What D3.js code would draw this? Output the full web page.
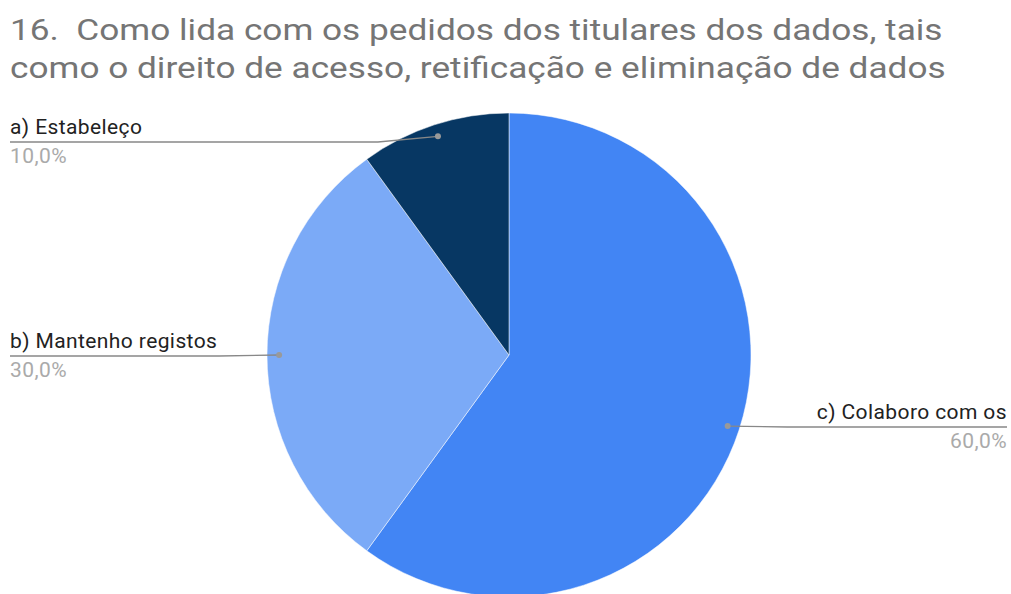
<!DOCTYPE html>
<html>
<head>
<meta charset="utf-8">
<script src="https://cdn.jsdelivr.net/npm/d3@7"></script>
<style>
  body { margin: 0; background: #fff; }
  svg { display: block; font-family: Roboto, Arial, sans-serif; }
</style>
</head>
<body>
<div id="chart"></div>
<script>
const titleLines = ['16.  Como lida com os pedidos dos titulares dos dados, tais',
                    'como o direito de acesso, retificação e eliminação de dados'];
const titleWidths = [933, 936];
const labels = ['c) Colaboro com os', 'b) Mantenho registos', 'a) Estabeleço'];
const values = [60, 30, 10];
const colors = ['#4285f4', '#7baaf7', '#073763'];

const w = 1011, h = 594;
const cx = 509, cy = 355, r = 242;

const svg = d3.select('#chart').append('svg').attr('width', w).attr('height', h);

// title: draw at natural width, then stretch sideways to the measured width
svg.selectAll('text.title').data(titleLines).enter().append('text')
    .attr('class', 'title')
    .attr('x', 0).attr('y', 0)
    .attr('fill', '#757575')
    .style('font-size', '30px').style('white-space', 'pre')
    .text(d => d)
    .each(function(d, i) {
      const len = this.getComputedTextLength();
      d3.select(this).attr('transform',
        'translate(10,' + (40 + i * 38) + ') scale(' + (titleWidths[i] / len) + ',1)');
    });

const data = labels.map((l, i) => ({label: l, value: values[i], color: colors[i]}));
const pie = d3.pie().value(d => d.value).sort(null);
const arc = d3.arc().innerRadius(0).outerRadius(r);
const arcs = pie(data);

const g = svg.append('g').attr('transform', 'translate(' + cx + ',' + cy + ')');
g.selectAll('path').data(arcs).enter().append('path')
    .attr('d', arc).attr('fill', d => d.data.color)
    .attr('stroke', '#fff').attr('stroke-width', 0.5);

// where each label line runs
const labelPos = [
  {side: 'right', lineY: 427},
  {side: 'left', lineY: 356},
  {side: 'left', lineY: 142}
];

arcs.forEach((a, i) => {
  const mid = (a.startAngle + a.endAngle) / 2;
  const px = cx + Math.sin(mid) * r * 0.95;
  const py = cy - Math.cos(mid) * r * 0.95;
  const lp = labelPos[i];
  const endX = lp.side === 'left' ? 10 : 1007;
  const bendX = lp.side === 'left' ? px - 60 : px + 60;
  svg.append('polyline')
      .attr('points', [[px, py], [bendX, lp.lineY], [endX, lp.lineY]].map(p => p.join(',')).join(' '))
      .attr('fill', 'none').attr('stroke', '#888').attr('stroke-width', 1.3);
  svg.append('circle').attr('cx', px).attr('cy', py).attr('r', 3).attr('fill', '#999');
  const anchor = lp.side === 'left' ? 'start' : 'end';
  svg.append('text').attr('x', endX).attr('y', lp.lineY - 8)
      .attr('text-anchor', anchor).attr('fill', '#222')
      .style('font-size', '21px').style('letter-spacing', '0.4px')
      .text(a.data.label);
  svg.append('text').attr('x', endX).attr('y', lp.lineY + 21)
      .attr('text-anchor', anchor).attr('fill', '#aaa')
      .style('font-size', '21px').style('letter-spacing', '0.4px')
      .text(d3.format('.1f')(a.data.value).replace('.', ',') + '%');
});
</script>
</body>
</html>
